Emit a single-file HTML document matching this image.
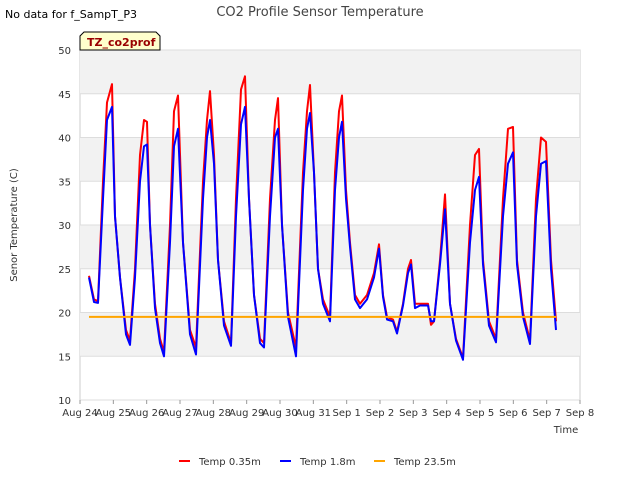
<!DOCTYPE html>
<html><head><meta charset="utf-8"><style>
body{margin:0;background:#fff;font-family:"Liberation Sans","DejaVu Sans",sans-serif}
svg text{font-family:"DejaVu Sans","Liberation Sans",sans-serif}
</style></head><body>
<svg id="chart" width="640" height="480" xmlns="http://www.w3.org/2000/svg">
<text x="5" y="18" font-size="11">No data for f_SampT_P3</text>
<text x="320" y="16" font-size="13" fill="#444" text-anchor="middle">CO2 Profile Sensor Temperature</text>
<g id="bands"></g><g id="grid"></g><g id="axes"></g><g id="series"></g>
<g>
<path d="M80,50 L80,36 L84,32 L156,32 L160,36 L160,50 Z" fill="#ffffcc" stroke="#000" stroke-width="1"/>
<text x="87" y="46" font-size="11" font-weight="bold" fill="#990000">TZ_co2prof</text></g>
<text transform="translate(17,225) rotate(-90)" font-size="10" fill="#333" text-anchor="middle">Senor Temperature (C)</text>
<text x="566" y="433" font-size="10" fill="#333" text-anchor="middle">Time</text>
<g id="legend"></g>
</svg>
<script>
const ticksY=[10,15,20,25,30,35,40,45,50];
const tickLabelsX=["Aug 24","Aug 25","Aug 26","Aug 27","Aug 28","Aug 29","Aug 30","Aug 31","Sep 1","Sep 2","Sep 3","Sep 4","Sep 5","Sep 6","Sep 7","Sep 8"];
const seriesNames=["Temp 0.35m","Temp 1.8m","Temp 23.5m"];
const seriesColors=["#ff0000","#0000ff","#ffa500"];
const tRed=[0.27,0.42,0.54,0.69,0.81,0.96,1.05,1.2,1.38,1.5,1.65,1.8,1.92,2.01,2.1,2.25,2.4,2.52,2.7,2.82,2.94,3.09,3.3,3.48,3.69,3.81,3.9,4.02,4.14,4.32,4.53,4.68,4.83,4.95,5.07,5.22,5.4,5.52,5.7,5.85,5.94,6.06,6.24,6.48,6.69,6.81,6.9,7.02,7.14,7.29,7.5,7.65,7.77,7.86,7.98,8.1,8.25,8.4,8.61,8.82,8.97,9.09,9.21,9.39,9.51,9.69,9.84,9.93,10.05,10.2,10.44,10.53,10.62,10.8,10.95,11.1,11.28,11.49,11.7,11.85,11.97,12.09,12.27,12.48,12.69,12.84,12.99,13.11,13.29,13.5,13.68,13.83,13.98,14.13,14.28];
const vRed=[24.2,21.5,21.3,35,44,46.1,31,24,18,16.8,25,38,42,41.8,30,21,17,15.5,30,43,44.8,28,18,16,35,42,45.3,38,26,19,16.5,33,45.5,47,33,22,17,16.5,33,42,44.5,30,20,16,36,43,46,36,25,21.5,19.5,36,43,44.8,34,28,22,21,22,24.5,27.8,22,19.5,19.2,17.8,21,25,26,21,21,21,18.6,19,26,33.5,21,17,14.8,30,38,38.7,26,19,17,33,41,41.2,26,20,16.8,33,40,39.5,26,19];
const vBlue=[24,21.2,21.1,33,42,43.5,31,24,17.5,16.3,24,35,39,39.2,30,20.5,16.5,15,28,39,41,28,17.5,15.2,33,40,42,37,26,18.5,16.2,31,41.5,43.5,33,22,16.5,16,31,40,41,30,19.5,15,34,41,42.8,36,25,21,19,34,40,41.8,33,27.5,21.5,20.5,21.5,24,27.3,21.8,19.2,19,17.6,20.8,24.5,25.5,20.5,20.8,20.8,19,19,25.5,31.8,21,16.8,14.6,28,34,35.5,25.5,18.5,16.6,31,37,38.3,25.5,19.5,16.4,31,37,37.3,25,18];
const tOrange=[0.27,14.28];
const vOrange=[19.5,19.5];
const NS="http://www.w3.org/2000/svg";
const X0=80,X1=580,Y0=400,Y1=50;
function xs(t){return X0+(t/15)*(X1-X0);}
function ys(v){return Y0-(v-10)/40*(Y0-Y1);}
function mk(tag,attrs,parent){const e=document.createElementNS(NS,tag);for(const k in attrs)e.setAttribute(k,attrs[k]);parent.appendChild(e);return e;}
const bands=document.getElementById('bands'),grid=document.getElementById('grid'),axes=document.getElementById('axes'),ser=document.getElementById('series'),leg=document.getElementById('legend');
mk('rect',{x:X0,y:Y1,width:X1-X0,height:Y0-Y1,fill:'#fff',stroke:'#ccc'},bands);
for(let i=0;i<ticksY.length-1;i++){if(i%2===1){const r=mk('rect',{x:X0,y:ys(ticksY[i+1]),width:X1-X0,height:ys(ticksY[i])-ys(ticksY[i+1]),fill:'#f2f2f2'},bands);

}}
ticksY.forEach(v=>{const l=mk('line',{x1:X0,x2:X1,y1:ys(v),y2:ys(v),stroke:'#ddd'},grid);


const tx=mk('text',{x:X0-9,y:ys(v)+4,'font-size':10,fill:'#333','text-anchor':'end'},axes);tx.textContent=v;

});
tickLabelsX.forEach((s,i)=>{mk('line',{x1:xs(i),x2:xs(i),y1:Y0,y2:Y0+4,stroke:'#999'},axes);
const tx=mk('text',{x:xs(i),y:Y0+16,'font-size':10,fill:'#333','text-anchor':'middle'},axes);tx.textContent=s;

});
function line(ts,vs,c,name){const p=mk('polyline',{points:ts.map((t,i)=>xs(t).toFixed(1)+','+ys(vs[i]).toFixed(1)).join(' '),fill:'none',stroke:c,'stroke-width':2,'stroke-linejoin':'round'},ser);

}
line(tRed,vRed,seriesColors[0],'series-temp-0-35m');
line(tRed,vBlue,seriesColors[1],'series-temp-1-8m');
line(tOrange,vOrange,seriesColors[2],'series-temp-23-5m');
const lx=[179,280,374];
seriesNames.forEach((n,i)=>{const g=mk('g',{},leg);


mk('line',{x1:lx[i],x2:lx[i]+11,y1:461,y2:461,stroke:seriesColors[i],'stroke-width':2},g);
const tx=mk('text',{x:lx[i]+20,y:465,'font-size':10,fill:'#333'},g);tx.textContent=n;});
</script>
</body></html>
